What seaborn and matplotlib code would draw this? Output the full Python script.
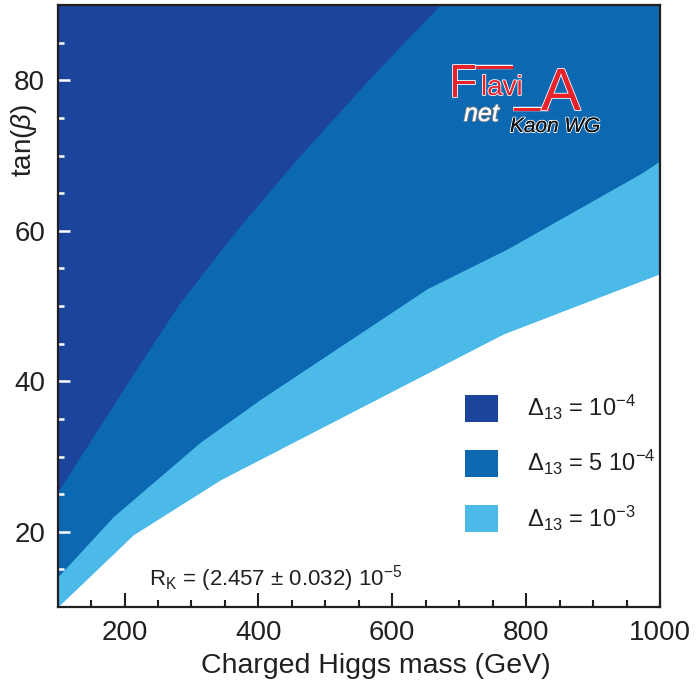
import numpy as np
import matplotlib
matplotlib.use("Agg")
import matplotlib.pyplot as plt
import matplotlib.patheffects as pe
from matplotlib.patches import Patch
from matplotlib.lines import Line2D
import seaborn as sns

# boundaries (charged Higgs mass in GeV -> tan(beta))
mass_1e3 = [100, 213, 343, 766, 1000]          # lower edge of Delta13 = 1e-3 band
tanb_1e3 = [10.0, 19.6, 26.9, 46.3, 54.3]
mass_5e4 = [100, 183, 313, 403, 652, 772, 971, 1000]   # lower edge of 5e-4 band
tanb_5e4 = [14.0, 22.0, 31.9, 37.6, 52.3, 57.6, 67.6, 69.3]
mass_1e4 = [100, 208, 283, 373, 462, 571, 671]  # lower edge of 1e-4 band
tanb_1e4 = [25.3, 40.3, 50.5, 60.7, 70.0, 80.7, 90.0]

labels = [r"$\Delta_{13}$ = 10$^{-4}$", r"$\Delta_{13}$ = 5 10$^{-4}$", r"$\Delta_{13}$ = 10$^{-3}$"]
colors = ["#1b449a", "#0d68b2", "#4bbae9"]
y_top = 90

sns.set_style("ticks")
plt.rcParams['font.family'] = ['Liberation Sans', 'DejaVu Sans']
plt.rcParams['mathtext.fontset'] = 'custom'
plt.rcParams['mathtext.rm'] = 'Liberation Sans'
plt.rcParams['mathtext.it'] = 'Liberation Sans:italic'
plt.rcParams['mathtext.sf'] = 'Liberation Sans'
txt = "#231f20"

fig = plt.figure(figsize=(6.97, 6.88), dpi=100)
ax = fig.add_axes([57.6 / 697, 81 / 688, 602.4 / 697, 602 / 688])
ax.set_axisbelow(False)  # white ticks have to sit on top of the bands

# bands, drawn from the widest to the narrowest
bands = [(mass_1e3, tanb_1e3, colors[2]), (mass_5e4, tanb_5e4, colors[1]), (mass_1e4, tanb_1e4, colors[0])]
for xs, ys, c in bands:
    ax.fill_between(xs, ys, y_top, color=c, linewidth=0)
    sns.lineplot(x=xs, y=ys, color=c, linewidth=0.6, ax=ax, sort=False)

ax.set_xlim(100, 1000)
ax.set_ylim(10, 90)
ax.set_xticks([200, 400, 600, 800, 1000])
ax.set_xticks(np.arange(150, 1000, 50), minor=True)
ax.set_yticks([20, 40, 60, 80])
ax.set_yticks(np.arange(15, 90, 5), minor=True)

ax.tick_params(axis='x', which='both', direction='in', color=txt, width=1.5, labelsize=20, labelcolor=txt, pad=9)
ax.tick_params(axis='x', which='major', length=10)
ax.tick_params(axis='x', which='minor', length=5)
ax.tick_params(axis='y', which='both', direction='in', color='white', width=1.8, labelsize=20, labelcolor=txt, pad=9)
ax.tick_params(axis='y', which='major', length=8.6)
ax.tick_params(axis='y', which='minor', length=4.3)
for s in ax.spines.values():
    s.set_visible(True)
    s.set_linewidth(1.6)
    s.set_color(txt)
    s.set_zorder(3)

ax.set_xlabel("Charged Higgs mass (GeV)", fontsize=20.5, color=txt)
ax.set_ylabel(r"tan($\beta$)", fontsize=20, color=txt)
ax.yaxis.set_label_coords(-0.031, 0.775)
ax.xaxis.set_label_coords(0.528, -0.076)

ax.text(237, 12.8, r"R$_{\rm K}$ = (2.457 $\pm$ 0.032) 10$^{-5}$", fontsize=16, color=txt)

handles = [Patch(facecolor=c, edgecolor='none') for c in colors]
ax.legend(handles, labels, loc='upper left', bbox_to_anchor=(0.676, 0.355), frameon=False,
          fontsize=17, handlelength=1.4, handleheight=1.4, handletextpad=1.25,
          labelspacing=1.1, borderpad=0, borderaxespad=0, labelcolor=txt)

# FlaviA net logo
def fp(x, y):
    return x / 697, 1 - y / 688

red = "#e8222a"
wst = [pe.withStroke(linewidth=1.2, foreground='white')]
fig.text(*fp(449, 97), "F", fontsize=33, color=red, va='baseline', path_effects=wst)
fig.text(*fp(481, 95), "lavi", fontsize=20, color=red, va='baseline', path_effects=wst)
fig.text(*fp(541, 110), "A", fontsize=43, color=red, va='baseline', path_effects=wst)
for (x0, y0), (x1, y1) in [((470, 66.5), (513, 66.5)), ((513, 109), (549, 109))]:
    a, b = fp(x0, y0)
    c, d = fp(x1, y1)
    fig.add_artist(Line2D([a, c], [b, d], color=red, linewidth=2.2, solid_capstyle='butt',
                          path_effects=[pe.withStroke(linewidth=3.2, foreground='white')]))
fig.text(*fp(464, 121), "net", fontsize=18, style='italic', color='white', va='baseline',
         path_effects=[pe.withStroke(linewidth=1.4, foreground='#8a8a8a'), pe.Normal()])
fig.text(*fp(510, 132), "Kaon WG", fontsize=15, style='italic', color='#111111', va='baseline',
         path_effects=[pe.withStroke(linewidth=1.4, foreground='white'), pe.Normal()])

fig.savefig("out.png", dpi=100)
